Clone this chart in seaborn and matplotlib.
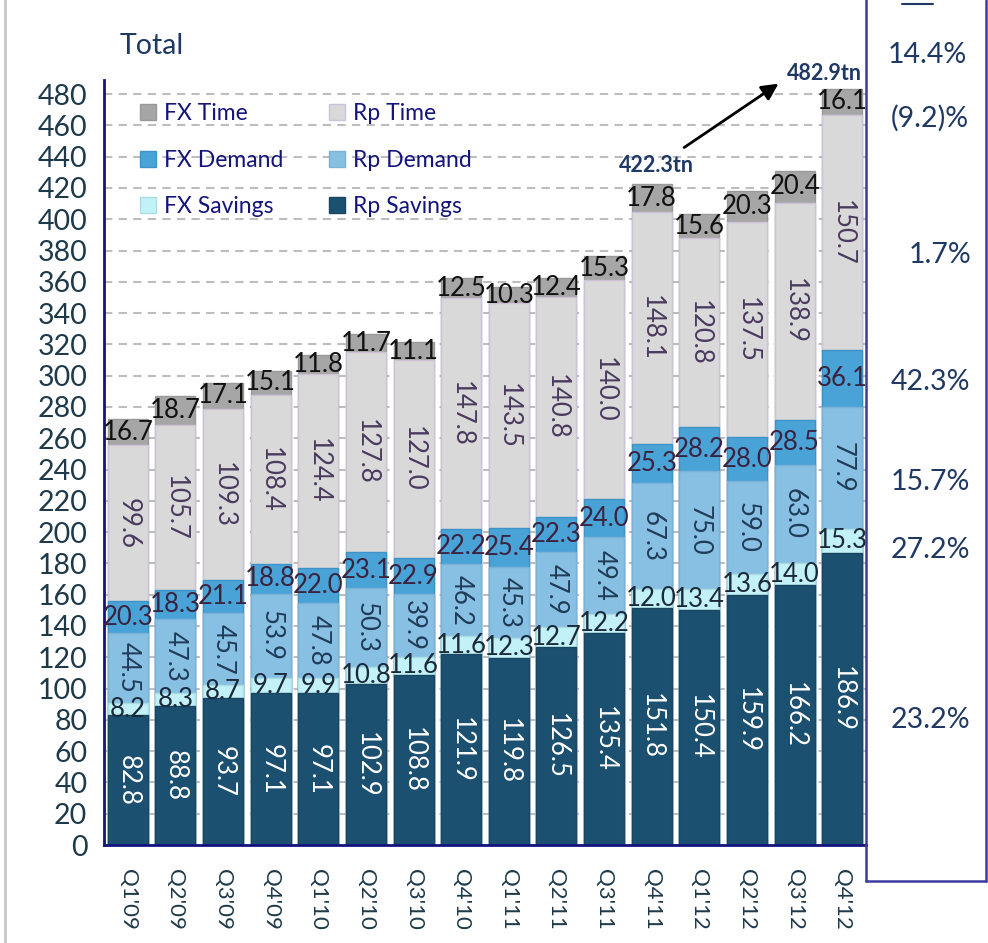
import matplotlib
matplotlib.use("Agg")
import matplotlib.pyplot as plt
from matplotlib.lines import Line2D
from matplotlib.patches import Patch
import numpy as np
import pandas as pd
import seaborn as sns

quarters = ["Q1'09", "Q2'09", "Q3'09", "Q4'09", "Q1'10", "Q2'10", "Q3'10", "Q4'10",
            "Q1'11", "Q2'11", "Q3'11", "Q4'11", "Q1'12", "Q2'12", "Q3'12", "Q4'12"]
rp_savings = [82.8, 88.8, 93.7, 97.1, 97.1, 102.9, 108.8, 121.9, 119.8, 126.5, 135.4, 151.8, 150.4, 159.9, 166.2, 186.9]
fx_savings = [8.2, 8.3, 8.7, 9.7, 9.9, 10.8, 11.6, 11.6, 12.3, 12.7, 12.2, 12.0, 13.4, 13.6, 14.0, 15.3]
rp_demand = [44.5, 47.3, 45.7, 53.9, 47.8, 50.3, 39.9, 46.2, 45.3, 47.9, 49.4, 67.3, 75.0, 59.0, 63.0, 77.9]
fx_demand = [20.3, 18.3, 21.1, 18.8, 22.0, 23.1, 22.9, 22.2, 25.4, 22.3, 24.0, 25.3, 28.2, 28.0, 28.5, 36.1]
rp_time = [99.6, 105.7, 109.3, 108.4, 124.4, 127.8, 127.0, 147.8, 143.5, 140.8, 140.0, 148.1, 120.8, 137.5, 138.9, 150.7]
fx_time = [16.7, 18.7, 17.1, 15.1, 11.8, 11.7, 11.1, 12.5, 10.3, 12.4, 15.3, 17.8, 15.6, 20.3, 20.4, 16.1]

series_names = ["Rp Savings", "FX Savings", "Rp Demand", "FX Demand", "Rp Time", "FX Time"]
growth_labels = ["14.4%", "(9.2)%", "1.7%", "42.3%", "15.7%", "27.2%", "23.2%"]
total_start_label = "422.3tn"
total_end_label = "482.9tn"

sns.set_theme(style="white")
plt.rcParams['font.family'] = ['Lato', 'DejaVu Sans']

series = [rp_savings, fx_savings, rp_demand, fx_demand, rp_time, fx_time]
colors = ["#1C5070", "#C3F1F8", "#88C0E4", "#4AA3D7", "#D9D9D9", "#A6A6A6"]
edges = ["#1A4660", "#A8DDE3", "#7AB2D8", "#3E92C6", "#CDC3D8", "#999999"]
txt_colors = ["white", "#1B2A3A", "#1F3B57", "#3B2340", "#4A3A5E", "#111111"]
rotations = [-90, 0, -90, 0, -90, 0]

fig = plt.figure(figsize=(9.88, 9.43), dpi=100)
ax = fig.add_axes([104 / 988, 1 - 845 / 943, (866 - 104) / 988, (845 - 80) / 943])

vals = np.array(series)
cum = np.cumsum(vals, axis=0)

# draw from top level down so lower levels overlay
for lvl in range(len(series) - 1, -1, -1):
    df = pd.DataFrame({"q": quarters, "v": cum[lvl]})
    sns.barplot(data=df, x="q", y="v", order=quarters, color=colors[lvl],
                edgecolor=edges[lvl], linewidth=1.0, width=0.84, ax=ax,
                saturation=1, zorder=2)

# labels
for lvl in range(len(series)):
    for i in range(len(quarters)):
        v = vals[lvl, i]
        bottom = cum[lvl, i] - v
        ax.text(i, bottom + v / 2, f"{v:.1f}", ha="center", va="center",
                rotation=rotations[lvl], rotation_mode="anchor",
                color=txt_colors[lvl], fontsize=18.5, zorder=5)

ax.set_xlim(-0.5, len(quarters) - 0.5)
ax.set_ylim(0, 489)
ax.set_yticks(np.arange(0, 481, 20))
ax.set_yticklabels([str(t) for t in range(0, 481, 20)], fontsize=20.5, color="#1E3A4A")
ax.set_xticks(range(len(quarters)))
ax.set_xticklabels(quarters, rotation=270, fontsize=16, color="#1E3A4A")
ax.set_xticks(np.arange(-0.5, len(quarters), 1.0), minor=True)
ax.tick_params(axis="x", which="major", length=0, pad=17)
ax.tick_params(axis="x", which="minor", length=8, width=1.5, color="#141480", direction="out")
ax.tick_params(axis="y", which="major", length=8, width=1.8, color="#141480", direction="out", pad=4)
ax.set_xlabel("")
ax.set_ylabel("")

ax.yaxis.grid(True, linestyle=(0, (4, 3)), color="#BDBDBD", linewidth=1.5)
ax.xaxis.grid(False)
ax.set_axisbelow(True)
for s in ["top", "right"]:
    ax.spines[s].set_visible(False)
for s in ["left", "bottom"]:
    ax.spines[s].set_color("#141480")
    ax.spines[s].set_linewidth(2)

# legend
order = [5, 3, 1, 4, 2, 0]
handles = [Patch(facecolor=colors[k], edgecolor=edges[k], label=series_names[k]) for k in order]
leg = ax.legend(handles=handles, ncol=2, loc="upper left", bbox_to_anchor=(0.02, 0.997),
                frameon=False, fontsize=16.5, labelspacing=1.12, columnspacing=2.0,
                handlelength=0.7, handleheight=0.7, handletextpad=0.35)
for t in leg.get_texts():
    t.set_color("#14147A")

# title
fig.text(120 / 988, 1 - 46 / 943, "Total", fontsize=20.5, color="#1F3864", ha="left", va="center")

# annotations
def px2data(px, py):
    return ((px - 128) / 47.625, (845 - py) / 1.5646)

x0, y0 = px2data(682, 149)
x1, y1 = px2data(781, 82)
ax.annotate("", xy=(x1, y1), xytext=(x0, y0),
            arrowprops=dict(arrowstyle="-|>", color="black", lw=2, mutation_scale=25),
            annotation_clip=False, zorder=6)
tx, ty = px2data(657, 165)
ax.text(tx, ty, total_start_label, fontsize=15.5, fontweight="bold", color="#1F3864",
        ha="center", va="center", zorder=6)
tx, ty = px2data(825, 73)
ax.text(tx, ty, total_end_label, fontsize=15.5, fontweight="bold", color="#1F3864",
        ha="center", va="center", clip_on=False, zorder=6)

# right box
box_c = "#3A3AA0"
fig.add_artist(Line2D([866 / 988, 866 / 988], [1, 1 - 881 / 943], color=box_c, lw=1.8))
fig.add_artist(Line2D([866 / 988, 986 / 988], [1 - 881 / 943, 1 - 881 / 943], color=box_c, lw=1.8))
fig.add_artist(Line2D([986 / 988, 986 / 988], [1 - 881 / 943, 1], color=box_c, lw=1.8))
fig.add_artist(Line2D([902 / 988, 933 / 988], [1 - 4 / 943, 1 - 4 / 943], color="#1F3864", lw=1.5))
# left page border
fig.add_artist(Line2D([5 / 988, 5 / 988], [0, 1], color="#C8C8C8", lw=2))

ys = [55, 118, 255, 382, 482, 550, 720]
xs = [927, 930, 940, 930, 930, 930, 930]
for lab, yy, xx in zip(growth_labels, ys, xs):
    fig.text(xx / 988, 1 - yy / 943, lab, fontsize=20.5, color="#1F3864", ha="center", va="center")

fig.savefig("out.png", dpi=100)
